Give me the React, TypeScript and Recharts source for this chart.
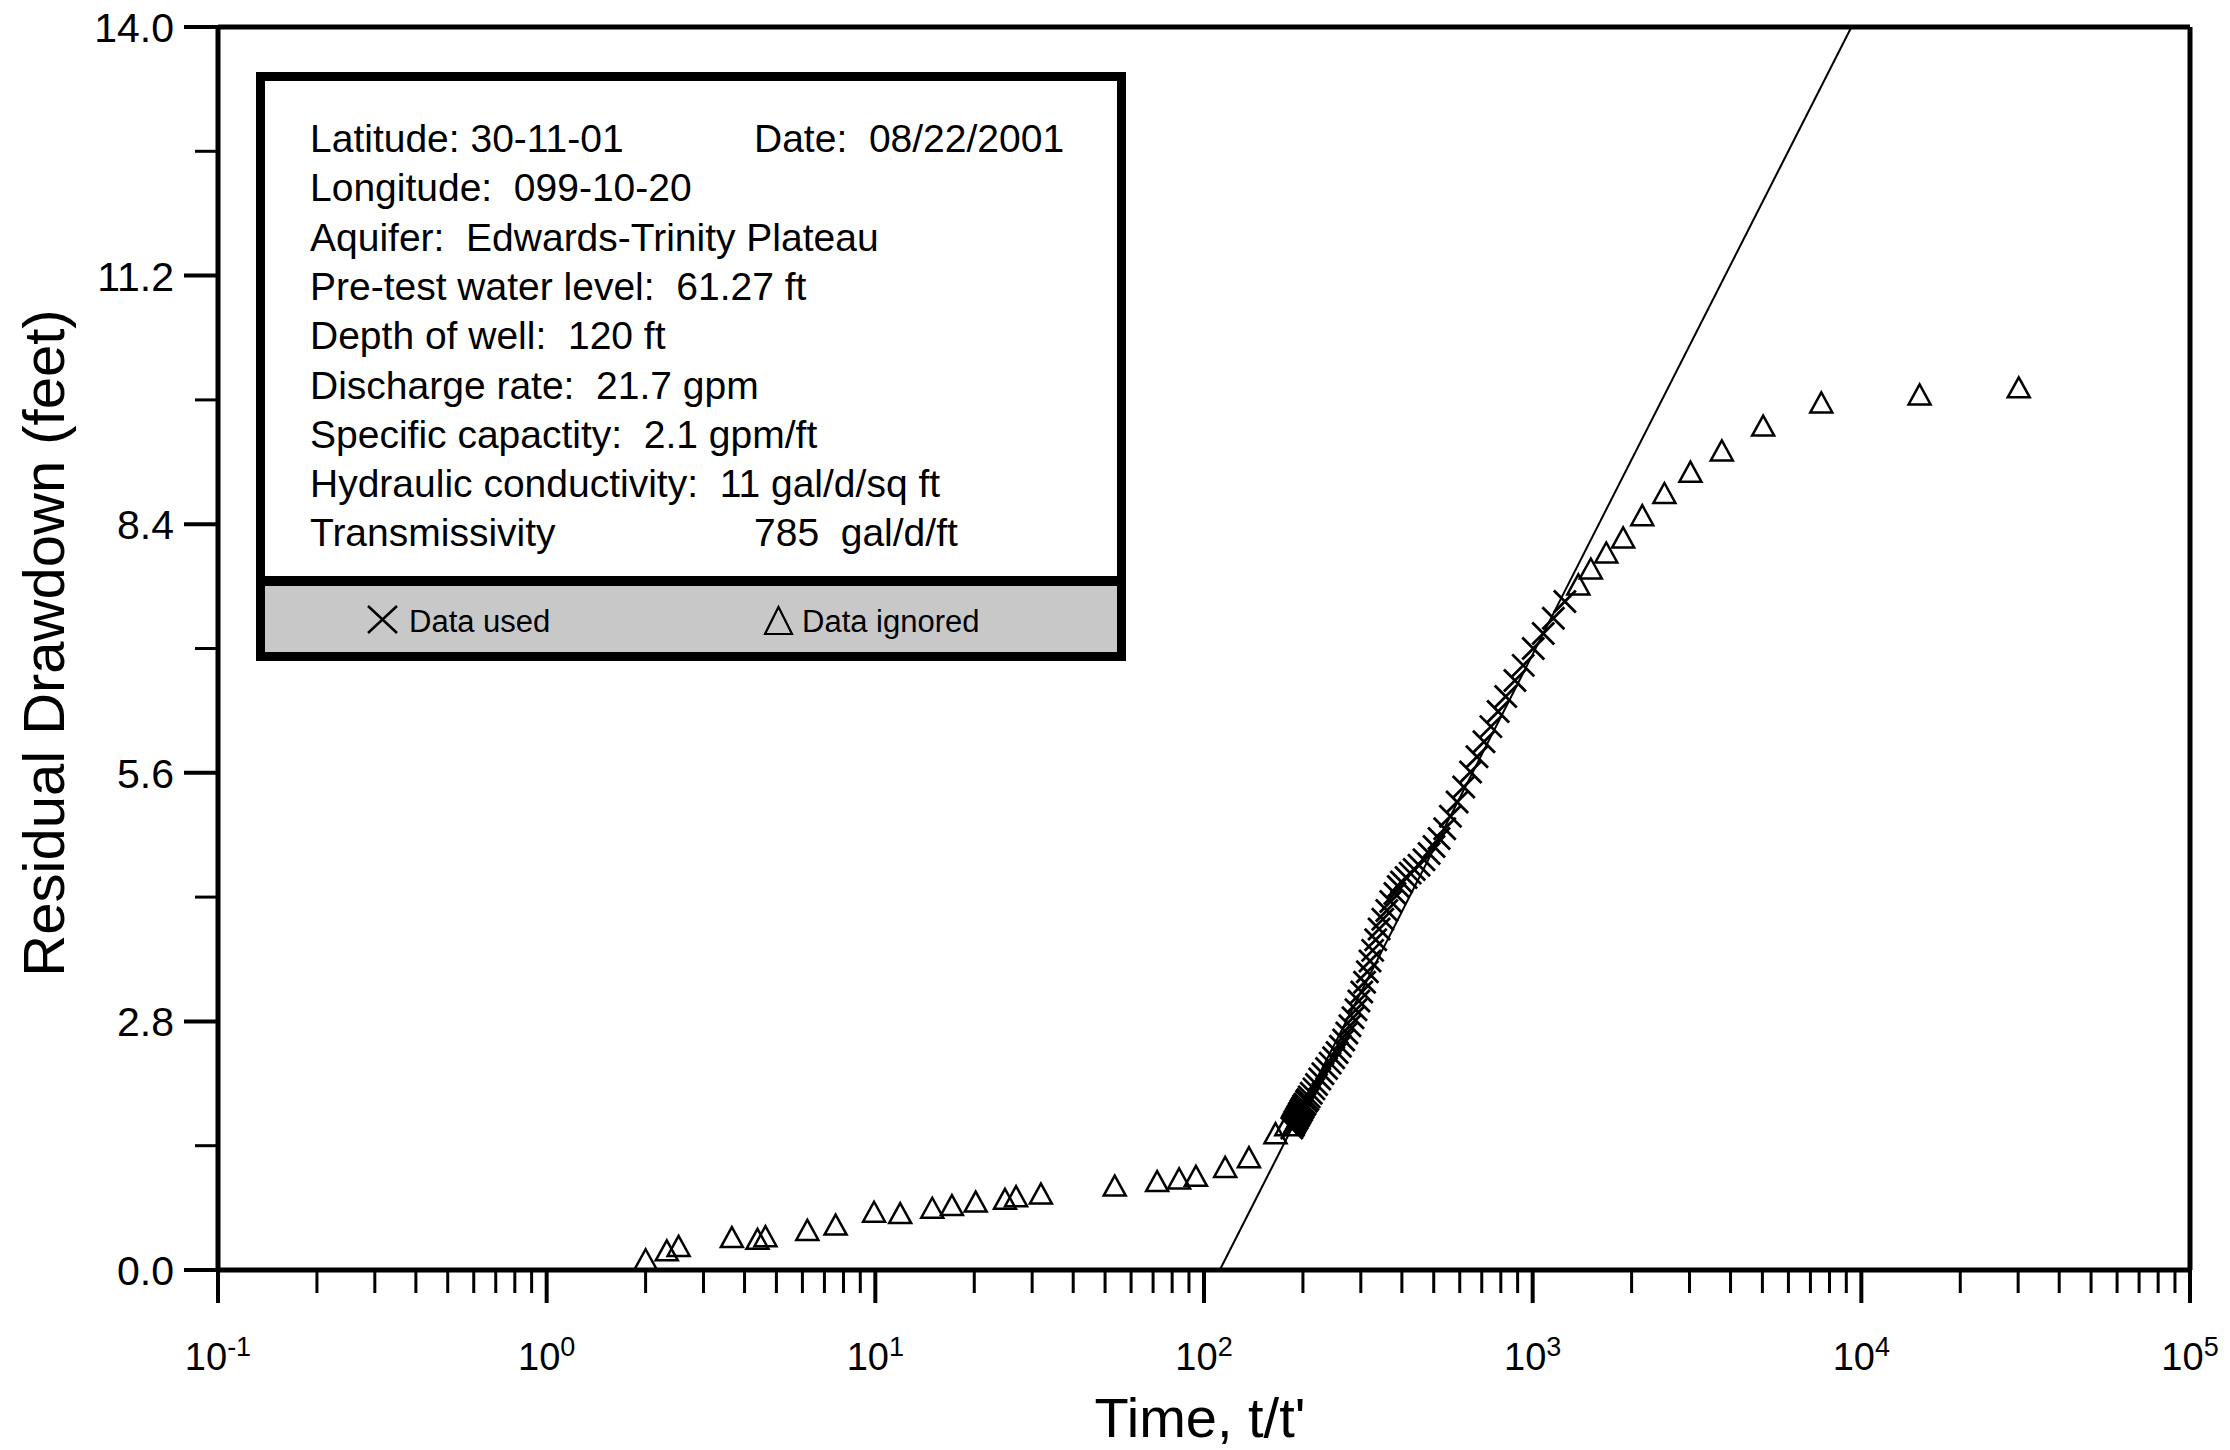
import React from "react";
import { ComposedChart, XAxis, YAxis, Scatter, ReferenceLine } from "recharts";

const W = 2230;
const H = 1450;
const FONT = "'Liberation Sans', Arial, Helvetica, sans-serif";

// data ignored (triangles): t/t' and residual drawdown (ft)
const ignoredT = [
  2.0, 2.32, 2.52, 3.66, 4.38, 4.63, 6.21, 7.57, 9.91, 11.9, 14.9, 17.1, 20.2,
  24.8, 26.8, 31.9, 53.5, 72, 84, 94.5, 116, 137, 165, 178, 1377, 1503, 1675,
  1885, 2155, 2517, 3020, 3763, 5027, 7554, 15040, 30130,
];
const ignoredS = [
  0.11, 0.21, 0.26, 0.36, 0.34, 0.37, 0.44, 0.5, 0.645, 0.63, 0.69, 0.72, 0.76,
  0.79, 0.82, 0.85, 0.94, 0.99, 1.02, 1.05, 1.15, 1.26, 1.53, 1.62, 7.71, 7.89,
  8.07, 8.24, 8.49, 8.74, 8.98, 9.22, 9.5, 9.76, 9.85, 9.93,
];

// data used (crosses)
const usedT = [
  185, 186, 187, 188, 189, 190, 191, 192, 193, 194, 195, 196, 197, 198, 199,
  200, 201, 203, 205, 207, 209, 212, 216, 220, 225, 230, 236, 242, 248, 254,
  260, 266, 272, 278, 284, 290, 296, 302, 308, 314, 320, 326, 333, 341, 350,
  360, 370, 381, 390, 399, 412, 424, 436, 451, 467, 484, 501, 519, 540, 562,
  589, 617, 647, 677, 711, 746, 785, 828, 883, 936, 1004, 1077, 1156, 1253,
];
const usedS = [
  1.6, 1.62, 1.63, 1.65, 1.67, 1.68, 1.7, 1.71, 1.73, 1.74, 1.76, 1.77, 1.79,
  1.8, 1.82, 1.83, 1.85, 1.87, 1.9, 1.92, 1.95, 1.99, 2.04, 2.09, 2.15, 2.21,
  2.27, 2.33, 2.39, 2.45, 2.52, 2.59, 2.67, 2.75, 2.84, 2.93, 3.03, 3.13, 3.24,
  3.36, 3.48, 3.6, 3.72, 3.84, 3.95, 4.05, 4.15, 4.24, 4.32, 4.37, 4.42, 4.47,
  4.51, 4.56, 4.62, 4.69, 4.77, 4.86, 4.97, 5.11, 5.27, 5.44, 5.61, 5.78, 5.95,
  6.12, 6.29, 6.46, 6.64, 6.81, 7.0, 7.17, 7.34, 7.53,
];

// straight-line fit (Cooper-Jacob)
const fitT = [111.7, 9330];
const fitS = [0, 14];

const xMajorTicks = [0.1, 1, 10, 100, 1000, 10000, 100000];
const xTickExp = ["-1", "0", "1", "2", "3", "4", "5"];
const yTicks = [0, 1.4, 2.8, 4.2, 5.6, 7, 8.4, 9.8, 11.2, 12.6, 14];
const yTickLabels = ["0.0", "", "2.8", "", "5.6", "", "8.4", "", "11.2", "", "14.0"];

const infoLines = [
  "Latitude: 30-11-01",
  "Longitude:  099-10-20",
  "Aquifer:  Edwards-Trinity Plateau",
  "Pre-test water level:  61.27 ft",
  "Depth of well:  120 ft",
  "Discharge rate:  21.7 gpm",
  "Specific capactity:  2.1 gpm/ft",
  "Hydraulic conductivity:  11 gal/d/sq ft",
  "Transmissivity",
];
const infoRight = ["Date:  08/22/2001", "", "", "", "", "", "", "", "785  gal/d/ft"];

const ignoredData = ignoredT.map((t, i) => ({ t, s: ignoredS[i] }));
const usedData = usedT.map((t, i) => ({ t, s: usedS[i] }));

// minor log ticks 2..9 in each decade
const xMinorTicks = xMajorTicks.slice(0, -1).flatMap((d) =>
  [2, 3, 4, 5, 6, 7, 8, 9].map((m) => m * d)
);
const xTicks = [...xMajorTicks, ...xMinorTicks];

const XTick = (props: any) => {
  const { x, y, payload } = props;
  const i = xMajorTicks.indexOf(payload.value);
  const major = i >= 0;
  return (
    <g>
      <line
        x1={x}
        x2={x}
        y1={y}
        y2={y + (major ? 33 : 23)}
        stroke="#000"
        strokeWidth={major ? 4 : 3}
      />
      {major && (
        <text x={x} y={y + 100} textAnchor="middle" fontSize={38} fontFamily={FONT} fill="#000">
          <tspan>10</tspan>
          <tspan dy={-14} fontSize={27}>
            {xTickExp[i]}
          </tspan>
        </text>
      )}
    </g>
  );
};

const YTick = (props: any) => {
  const { x, y, payload } = props;
  const i = yTicks.indexOf(payload.value);
  const major = i % 2 === 0;
  return (
    <g>
      <line
        x1={x - (major ? 34 : 23)}
        x2={x}
        y1={y}
        y2={y}
        stroke="#000"
        strokeWidth={major ? 4 : 3}
      />
      {major && (
        <text x={x - 44} y={y + 15} textAnchor="end" fontSize={41} fontFamily={FONT} fill="#000">
          {yTickLabels[i]}
        </text>
      )}
    </g>
  );
};

const TriangleShape = (props: any) => {
  const { cx, cy } = props;
  return (
    <path
      d={`M${cx},${cy - 11}L${cx + 11},${cy + 9}L${cx - 11},${cy + 9}Z`}
      stroke="#000"
      strokeWidth={2.5}
      fill="none"
    />
  );
};

const CrossShape = (props: any) => {
  const { cx, cy } = props;
  const r = 11;
  return (
    <path
      d={`M${cx - r},${cy - r}L${cx + r},${cy + r}M${cx + r},${cy - r}L${cx - r},${cy + r}`}
      stroke="#000"
      strokeWidth={2.8}
      fill="none"
    />
  );
};

export default function App() {
  return (
    <div style={{ position: "absolute", left: 0, top: 0, width: W, height: H, background: "#fff" }}>
      <ComposedChart
        width={W}
        height={H}
        margin={{ top: 27, right: 40, bottom: 30, left: 118 }}
      >
        <XAxis
          dataKey="t"
          type="number"
          scale="log"
          domain={[0.1, 100000]}
          allowDataOverflow
          ticks={xTicks}
          interval={0}
          tickSize={0}
          tickMargin={0}
          tickLine={false}
          tick={XTick}
          axisLine={{ stroke: "#000", strokeWidth: 5 }}
          height={150}
        />
        <YAxis
          dataKey="s"
          type="number"
          domain={[0, 14]}
          allowDataOverflow
          ticks={yTicks}
          interval={0}
          tickSize={0}
          tickMargin={0}
          tickLine={false}
          tick={YTick}
          axisLine={{ stroke: "#000", strokeWidth: 5 }}
          width={100}
        />
        <ReferenceLine y={14} stroke="#000" strokeWidth={5} />
        <ReferenceLine x={100000} stroke="#000" strokeWidth={5} />
        <ReferenceLine
          segment={[
            { x: fitT[0], y: fitS[0] },
            { x: fitT[1], y: fitS[1] },
          ]}
          stroke="#000"
          strokeWidth={2}
        />
        <Scatter data={ignoredData} shape={TriangleShape} isAnimationActive={false} />
        <Scatter data={usedData} shape={CrossShape} isAnimationActive={false} />
      </ComposedChart>

      <svg
        width={W}
        height={H}
        style={{ position: "absolute", left: 0, top: 0, pointerEvents: "none" }}
      >
        {/* info box */}
        <rect x={260.5} y={76.5} width={861} height={580} fill="#fff" />
        <rect x={260.5} y={581} width={861} height={75.5} fill="#c8c8c8" />
        <line x1={256} x2={1126} y1={581} y2={581} stroke="#000" strokeWidth={10} />
        <rect x={260.5} y={76.5} width={861} height={580} fill="none" stroke="#000" strokeWidth={9} />
        {infoLines.map((line, i) => (
          <text
            key={i}
            x={310}
            y={152 + i * 49.3}
            fontSize={39}
            fontFamily={FONT}
            fill="#000"
            style={{ whiteSpace: "pre" }}
          >
            {line}
          </text>
        ))}
        {infoRight.map((line, i) =>
          line ? (
            <text
              key={i}
              x={754}
              y={152 + i * 49.3}
              fontSize={39}
              fontFamily={FONT}
              fill="#000"
              style={{ whiteSpace: "pre" }}
            >
              {line}
            </text>
          ) : null
        )}
        <path d="M368,606L397,633M397,606L368,633" stroke="#000" strokeWidth={2.5} fill="none" />
        <text x={409} y={632} fontSize={31} fontFamily={FONT} fill="#000">
          Data used
        </text>
        <path d="M778.5,607L792,634L765,634Z" stroke="#000" strokeWidth={2.2} fill="none" />
        <text x={802} y={632} fontSize={31} fontFamily={FONT} fill="#000">
          Data ignored
        </text>

        {/* axis titles */}
        <text
          transform="translate(64,643) rotate(-90)"
          textAnchor="middle"
          fontSize={58}
          fontFamily={FONT}
          fill="#000"
        >
          Residual Drawdown (feet)
        </text>
        <text x={1200} y={1437} textAnchor="middle" fontSize={56} fontFamily={FONT} fill="#000">
          Time, t/t'
        </text>
      </svg>
    </div>
  );
}
